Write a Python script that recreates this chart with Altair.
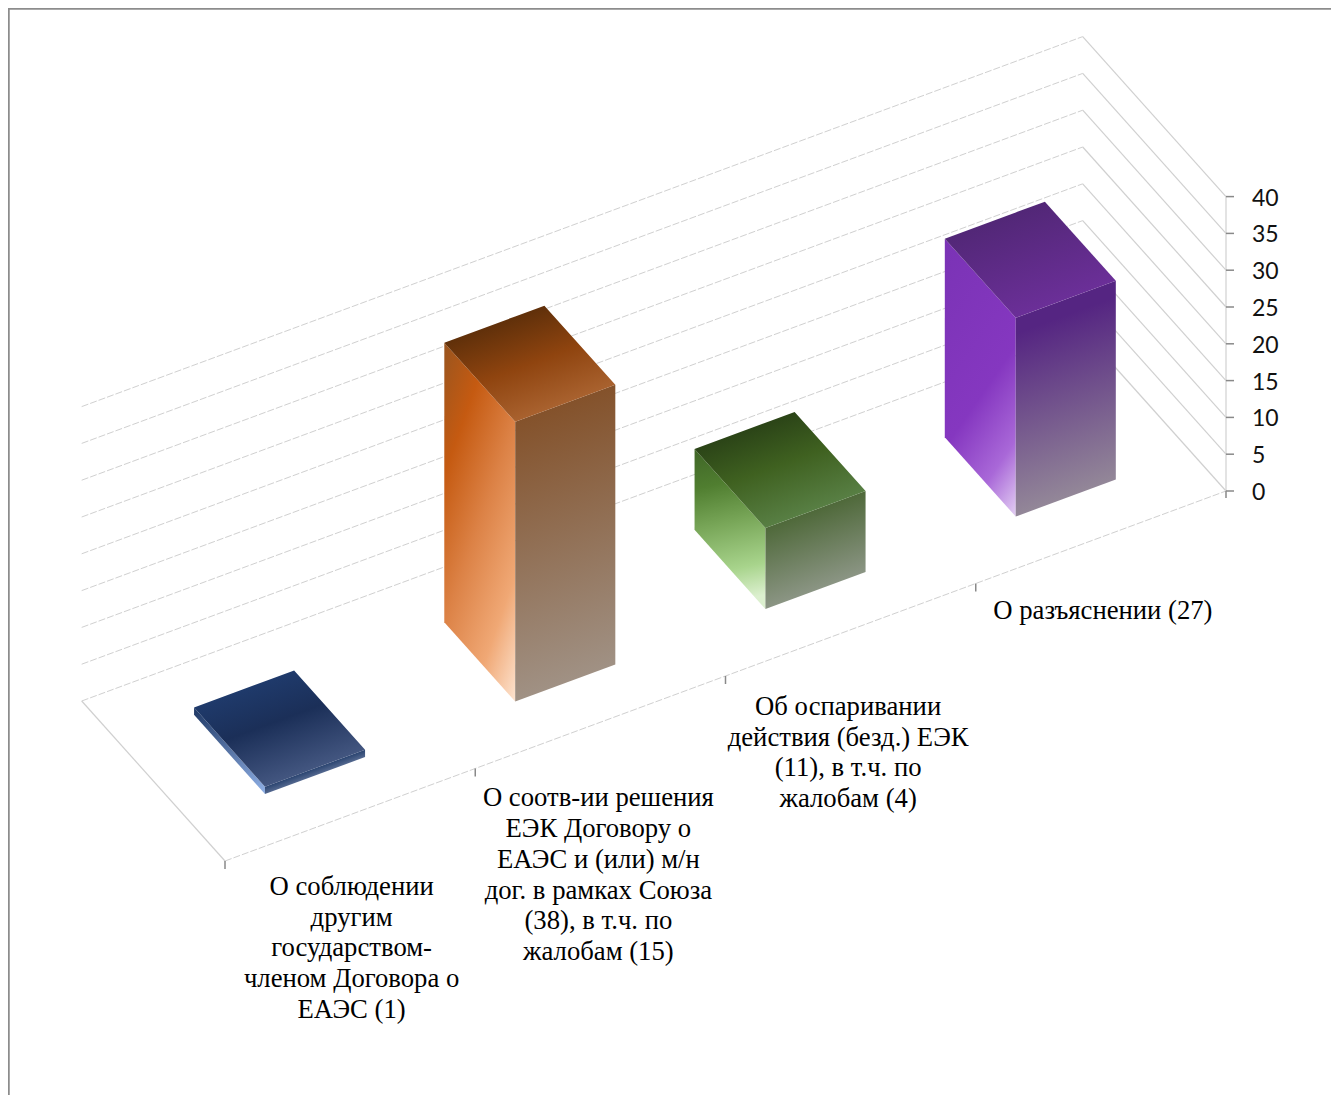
import altair as alt
import pandas as pd

# ---- data ----
categories = ["A", "B", "C", "D"]
values = [1, 38, 11, 27]
tick_values = [0, 5, 10, 15, 20, 25, 30, 35, 40]
label_lines = [
    ["О соблюдении", "другим", "государством-", "членом Договора о", "ЕАЭС (1)"],
    ["О соотв-ии решения", "ЕЭК Договору о", "ЕАЭС и (или) м/н", "дог. в рамках Союза", "(38), в т.ч. по", "жалобам (15)"],
    ["Об оспаривании", "действия (безд.) ЕЭК", "(11), в т.ч. по", "жалобам (4)"],
    ["О разъяснении (27)"],
]
# gradient colours: left face, top face, right face
face_stops = {
    "A": ([(0, "#1f3864"), (1, "#8fb0e6")],
          [(0, "#1f3a6b"), (0.42, "#1b2f58"), (1, "#435680")],
          [(0, "#2a4470"), (1, "#54688f")]),
    "B": ([(0, "#99551f"), (0.235, "#c55a11"), (0.5, "#dc8246"), (0.775, "#f0a875"), (1, "#fde3cf")],
          [(0, "#60300a"), (0.5, "#8f440f"), (1, "#a9622f")],
          [(0, "#84522b"), (1, "#a09184")]),
    "C": ([(0, "#3f6527"), (0.25, "#507e30"), (0.5, "#78a658"), (0.8, "#a8d48c"), (1, "#dcf0cf")],
          [(0, "#2b4417"), (0.45, "#3f6120"), (1, "#587f44")],
          [(0, "#4f693a"), (1, "#8b9584")]),
    "D": ([(0, "#7a33b5"), (0.55, "#8537c0"), (0.8, "#a968d8"), (1, "#e3cff3")],
          [(0, "#522777"), (1, "#6b2f98")],
          [(0, "#552582"), (0.08, "#552582"), (1, "#938798")]),
}
left_direction = {"A": (0.66, 1.19), "B": (0.665, 1.187), "C": (0.1, 1.0), "D": (0.443, 1.204)}
grid_color = "#d0d0d0"
axis_color = "#898989"
frame_color = "#8c8c8c"

# ---- oblique projection of the 3-D chart box onto the page ----
ORIGIN = (81.7, 701.0)       # back-left corner of the floor, page pixels
U = (250.25, -92.5)          # one category along the front edge
V = (143.3, 160.0)           # back-to-front depth of the floor
PER_UNIT = 7.36              # vertical pixels per value unit
GAP_U, WIDTH_U = 0.30, 0.40  # bar placement within a category
V0, V1 = 0.26, 0.755         # bar placement in depth
# small per-label placement corrections of the wrapped labels
LABEL_NUDGE = [(1.5, -3), (-2, 1), (-2.5, 2), (2, -1)]
LINE_H = 30.75
FIRST_LINE = 75
TICK_LABEL_DY = 2


def project(u, v, h=0.0):
    return (ORIGIN[0] + u * U[0] + v * V[0],
            ORIGIN[1] + u * U[1] + v * V[1] - h * PER_UNIT)


WIDTH, HEIGHT = 1323, 1087
x_scale = alt.Scale(domain=[8, 8 + WIDTH], range=[0, WIDTH], nice=False, zero=False)
y_scale = alt.Scale(domain=[8, 8 + HEIGHT], range=[0, HEIGHT], nice=False, zero=False)
X = alt.X("x:Q", scale=x_scale, axis=None)
Y = alt.Y("y:Q", scale=y_scale, axis=None)


def rules(rows, color, width=1.0, dash=None):
    df = pd.DataFrame(rows, columns=["x", "y", "x2", "y2"])
    kw = {"strokeDash": dash} if dash else {}
    return alt.Chart(df).mark_rule(color=color, strokeWidth=width, **kw).encode(
        x=X, y=Y, x2="x2:Q", y2="y2:Q")


n = len(categories)
along, across = [], []
for t in tick_values:
    a, b, c = project(0, 0, t), project(n, 0, t), project(n, 1, t)
    along.append((*a, *b))
    across.append((*b, *c))
across.append((*project(0, 0), *project(0, 1)))
along.append((*project(0, 1), *project(n, 1)))
across.append((*project(n, 1, 0), *project(n, 1, tick_values[-1])))

ticks = []
for t in tick_values:
    p = project(n, 1, t)
    ticks.append((p[0], p[1], p[0] + 8, p[1]))
p0 = project(n, 1)
ticks.append((p0[0], p0[1], p0[0], p0[1] + 7))
for i in range(n):
    p = project(i, 1)
    ticks.append((p[0], p[1], p[0], p[1] + 8))
frame = [(8.5, 8, 8.5, 8 + HEIGHT), (8, 8.5, 8 + WIDTH, 8.5)]


def poly_area(points):
    """Turn a convex quad into an area layer's table: top and bottom y per x."""
    xs = sorted({round(p[0], 3) for p in points})
    rows = []
    n_p = len(points)
    for x in xs:
        ys = []
        for i in range(n_p):
            a, b = points[i], points[(i + 1) % n_p]
            lo, hi = min(a[0], b[0]), max(a[0], b[0])
            if lo - 1e-3 <= x <= hi + 1e-3:
                if abs(b[0] - a[0]) < 1e-3:
                    ys += [a[1], b[1]]
                else:
                    ys.append(a[1] + (x - a[0]) / (b[0] - a[0]) * (b[1] - a[1]))
        rows.append({"x": x, "y": min(ys), "y2": max(ys)})
    return pd.DataFrame(rows)


def to_box(points):
    xs, ys = [p[0] for p in points], [p[1] for p in points]
    w, h = max(xs) - min(xs), max(ys) - min(ys)
    return [((p[0] - min(xs)) / w, (p[1] - min(ys)) / h) for p in points]


def across_edges(points):
    """Gradient running from edge points[0]-points[1] to the opposite edge."""
    b = to_box(points)
    ex, ey = b[1][0] - b[0][0], b[1][1] - b[0][1]
    nx, ny = -ey, ex
    dx, dy = b[3][0] - b[0][0], b[3][1] - b[0][1]
    k = (dx * nx + dy * ny) / (nx * nx + ny * ny)
    return b[0][0], b[0][1], b[0][0] + k * nx, b[0][1] + k * ny


def face(points, stops, coords):
    x1, y1, x2, y2 = coords
    grad = alt.Gradient(gradient="linear", x1=x1, y1=y1, x2=x2, y2=y2,
                        stops=[alt.GradientStop(offset=o, color=c) for o, c in stops])
    return alt.Chart(poly_area(points)).mark_area(fill=grad, interpolate="linear").encode(
        x=X, y=Y, y2="y2:Q")


bars = []
for i, (cat, val) in enumerate(zip(categories, values)):
    u0, u1 = i + GAP_U, i + GAP_U + WIDTH_U
    left_stops, top_stops, right_stops = face_stops[cat]
    left = [project(u0, V0, val), project(u0, V1, val), project(u0, V1, 0), project(u0, V0, 0)]
    right = [project(u0, V1, val), project(u1, V1, val), project(u1, V1, 0), project(u0, V1, 0)]
    top = [project(u0, V0, val), project(u1, V0, val), project(u1, V1, val), project(u0, V1, val)]
    bars.append(face(left, left_stops, (0, 0, *left_direction[cat])))
    bars.append(face(right, right_stops, across_edges(right)))
    bars.append(face(top, top_stops, across_edges(top)))

tick_df = pd.DataFrame([{"x": project(n, 1, t)[0] + 26, "y": project(n, 1, t)[1] + TICK_LABEL_DY, "t": str(t)}
                        for t in tick_values])
tick_text = alt.Chart(tick_df).mark_text(
    align="left", baseline="middle", font="Lato", fontSize=23, color="#111111"
).encode(x=X, y=Y, text="t:N")

cat_rows = []
for i, lines in enumerate(label_lines):
    c = project(i + 0.5, 1)
    dx, dy = LABEL_NUDGE[i]
    for j, s in enumerate(lines):
        cat_rows.append({"x": c[0] + dx, "y": c[1] + dy + FIRST_LINE + j * LINE_H, "t": s})
cat_text = alt.Chart(pd.DataFrame(cat_rows)).mark_text(
    align="center", baseline="middle", font="Liberation Serif", fontSize=26.7, color="#000000"
).encode(x=X, y=Y, text="t:N")

chart = alt.layer(
    rules(frame, frame_color, 2.5),
    rules(along, grid_color, 1.0, [7, 2]),
    rules(across, grid_color, 1.2),
    *bars,
    rules(ticks, axis_color, 1.5),
    tick_text,
    cat_text,
).properties(
    width=WIDTH, height=HEIGHT, padding=0, background="white",
    autosize=alt.AutoSizeParams(type="none"),
).configure_view(stroke=None)

chart.save("out.html", embed_options={"renderer": "svg", "actions": False})
